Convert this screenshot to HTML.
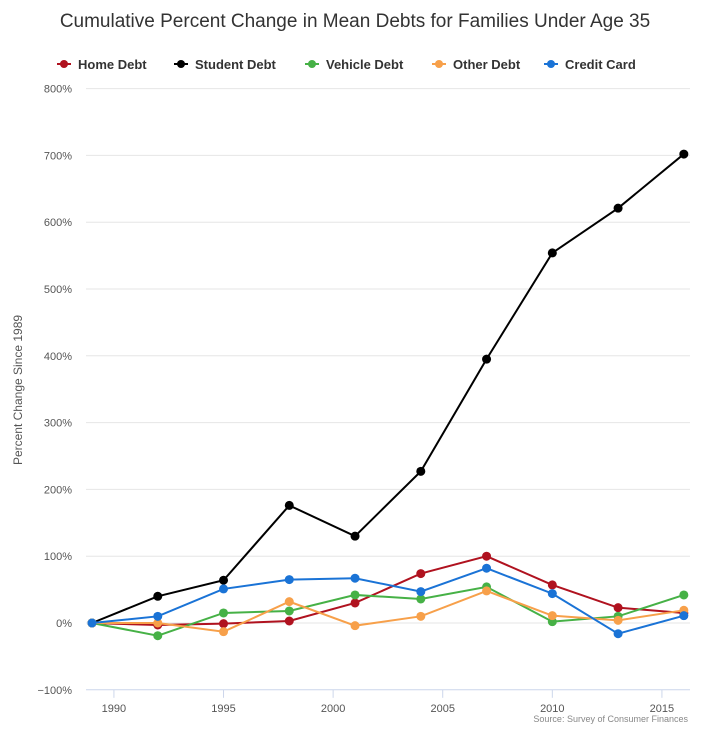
<!DOCTYPE html>
<html><head><meta charset="utf-8"><style>
body{margin:0;background:#fff;font-family:"Liberation Sans",sans-serif;}
</style></head><body>
<svg id="chart" width="710" height="738" xmlns="http://www.w3.org/2000/svg" font-family="Liberation Sans, sans-serif">
<text x="355" y="27" text-anchor="middle" font-size="19" fill="#333">Cumulative Percent Change in Mean Debts for Families Under Age 35</text>
<g id="legend"></g>
<g id="grid"></g>
<g id="series"></g>
<text transform="translate(22,390) rotate(-90)" text-anchor="middle" font-size="12" fill="#555">Percent Change Since 1989</text>
<text x="688" y="722" text-anchor="end" font-size="9" fill="#888">Source: Survey of Consumer Finances</text>
</svg>
<script>
const years=[1989,1992,1995,1998,2001,2004,2007,2010,2013,2016];
const seriesNames=["Home Debt","Student Debt","Vehicle Debt","Other Debt","Credit Card"];
const homeDebt=[0,-3,-1,3,30,74,100,57,23,15];
const studentDebt=[0,40,64,176,130,227,395,554,621,702];
const vehicleDebt=[0,-19,15,18,42,36,54,2,10,42];
const otherDebt=[0,0,-13,32,-4,10,48,11,4,19];
const creditCard=[0,10,51,65,67,47,82,44,-16,11];
const yTicks=[-100,0,100,200,300,400,500,600,700,800];
const xTicks=[1990,1995,2000,2005,2010,2015];
const colors=["#b0121f","#000000","#46b146","#f7a04a","#1a73d6"];
const NS="http://www.w3.org/2000/svg";
const x=v=>92+(v-1989)*21.92;
const y=v=>623-v*0.668;
function mk(tag,attrs,parent){const e=document.createElementNS(NS,tag);for(const k in attrs)e.setAttribute(k,attrs[k]);parent.appendChild(e);return e;}
const grid=document.getElementById('grid');
yTicks.forEach(t=>{
  if(t>-100){const l=mk('line',{x1:86,x2:690,y1:y(t),y2:y(t),stroke:'#e6e6e6','stroke-width':1},grid);
  
  }
  const tx=mk('text',{x:72,y:y(t)+4,'text-anchor':'end','font-size':11,fill:'#555'},grid);
  tx.textContent=(t<0?'\u2212'+(-t):t)+'%';
  
  
});
const ax=mk('line',{x1:86,x2:690,y1:y(-100),y2:y(-100),stroke:'#ccd6eb','stroke-width':1},grid);


xTicks.forEach(t=>{
  const tk=mk('line',{x1:x(t),x2:x(t),y1:y(-100),y2:y(-100)+8,stroke:'#ccd6eb'},grid);
  
  
  const tx=mk('text',{x:x(t),y:712,'text-anchor':'middle','font-size':11,fill:'#555'},grid);
  tx.textContent=t;
  
  
});
const data=[homeDebt,studentDebt,vehicleDebt,otherDebt,creditCard];
const sg=document.getElementById('series');
data.forEach((vals,i)=>{
  const g=mk('g',{},sg);
  
  
  const p=mk('polyline',{points:vals.map((v,j)=>x(years[j])+','+y(v)).join(' '),fill:'none',stroke:colors[i],'stroke-width':2},g);
  
  
  vals.forEach((v,j)=>{
    const c=mk('circle',{cx:x(years[j]),cy:y(v),r:4.5,fill:colors[i]},g);
    
    
  });
});
const lg=document.getElementById('legend');
const lx=[57,174,305,432,544];
seriesNames.forEach((n,i)=>{
  const g=mk('g',{},lg);
  
  
  mk('line',{x1:lx[i],x2:lx[i]+14,y1:64,y2:64,stroke:colors[i],'stroke-width':2},g);
  mk('circle',{cx:lx[i]+7,cy:64,r:4,fill:colors[i]},g);
  const t=mk('text',{x:lx[i]+21,y:69,'font-size':13,'font-weight':'bold',fill:'#333'},g);
  t.textContent=n;
});
</script>
</body></html>
